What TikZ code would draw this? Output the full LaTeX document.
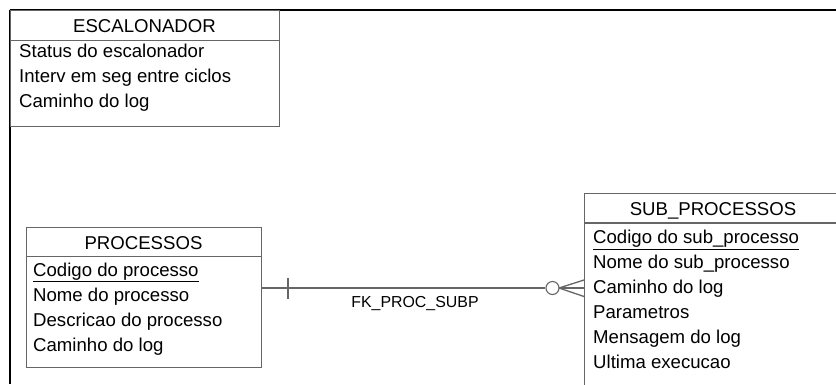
\documentclass[tikz,border=0pt]{standalone}
\usepackage{fontspec}
\setmainfont{Liberation Sans}
\begin{document}
\begin{tikzpicture}[x=1pt,y=-1pt,
  boxline/.style={draw=black!60, line width=1.3pt},
  frameline/.style={draw=black, line width=2pt},
  entbox/.style={boxline, rectangle, inner sep=0pt, anchor=north west},
  rowtxt/.style={anchor=base west, inner sep=0pt, font=\fontsize{18.6}{22}\selectfont},
  headtxt/.style={anchor=base, inner sep=0pt, font=\fontsize{18.6}{22}\selectfont},
  reltxt/.style={anchor=base, inner sep=0pt, font=\fontsize{15.9}{18}\selectfont},
  conn/.style={draw=black!60, line width=1.3pt}]
\useasboundingbox (0,0) rectangle (836,384);
\clip (0,0) rectangle (836,384);
\fill[white] (0,0) rectangle (836,384);
% frame
\draw[frameline] (9.5,9.5) -- (836,9.5);
\draw[frameline] (9.5,9.5) -- (9.5,384);
% ESCALONADOR
\node[entbox, minimum width=269pt, minimum height=116pt] (esc) at (10,9.5) {};
\draw[boxline] (10,40.5) -- (279,40.5);
\node[headtxt] (escH) at (144.5,32) {ESCALONADOR};
\node[rowtxt] (esc1) at (19,57) {Status do escalonador};
\node[rowtxt] (esc2) at (19,82) {Interv em seg entre ciclos};
\node[rowtxt] (esc3) at (19,107) {Caminho do log};
% PROCESSOS
\node[entbox, minimum width=235pt, minimum height=140pt] (proc) at (26,227) {};
\draw[boxline] (26,256.5) -- (261,256.5);
\node[headtxt] (procH) at (143.5,249) {PROCESSOS};
\node[rowtxt] (proc1) at (33,276) {\underline{Codigo do processo}};
\node[rowtxt] (proc2) at (33,301.5) {Nome do processo};
\node[rowtxt] (proc3) at (33,326.5) {Descricao do processo};
\node[rowtxt] (proc4) at (33,351.5) {Caminho do log};
% SUB_PROCESSOS
\node[entbox, minimum width=258pt, minimum height=220pt] (sub) at (584,193) {};
\draw[boxline] (584,223) -- (842,223);
\node[headtxt] (subH) at (713,215) {SUB\_PROCESSOS};
\node[rowtxt] (sub1) at (593,243.5) {\underline{Codigo do sub\_processo}};
\node[rowtxt] (sub2) at (593,268.5) {Nome do sub\_processo};
\node[rowtxt] (sub3) at (593,293.5) {Caminho do log};
\node[rowtxt] (sub4) at (593,318) {Parametros};
\node[rowtxt] (sub5) at (593,343) {Mensagem do log};
\node[rowtxt] (sub6) at (593,368) {Ultima execucao};
% relationship
\coordinate (lk) at (0,288);
\coordinate (pe) at (proc.east |- lk);
\coordinate (se) at (sub.west |- lk);
\node[circle, draw=black!60, line width=1.1pt, minimum size=13pt, inner sep=0pt] (opt) at (552.5,288) {};
\coordinate (apex) at (559,288);
\draw[conn] (pe) -- (opt.west);
\draw[conn] (288,278) -- (288,299);
\draw[conn] (apex) -- (se);
\draw[conn] (apex) -- ([yshift=-8.5pt]se);
\draw[conn] (apex) -- ([yshift=8pt]se);
\node[reltxt] (fk) at (415,307) {FK\_PROC\_SUBP};
\end{tikzpicture}
\end{document}
